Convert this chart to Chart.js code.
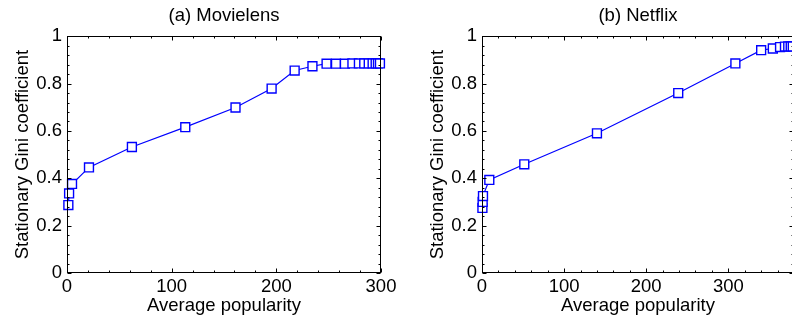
<!DOCTYPE html>
<html>
<head>
<meta charset="utf-8">
<script src="https://cdn.jsdelivr.net/npm/chart.js@4"></script>
<style>
  html, body { margin: 0; padding: 0; background: #fff; overflow: hidden; width: 792px; height: 323px; }
  .panel { position: absolute; top: 0; }
</style>
</head>
<body>
<div class="panel" style="left:0"><canvas id="movielens" width="400" height="323"></canvas></div>
<div class="panel" style="left:415px"><canvas id="netflix" width="400" height="323"></canvas></div>
<script>
// values
const movielensPopularity = [1.3, 2.0, 4.8, 21, 62, 113, 161, 195.5, 217.5, 234.5, 248, 257, 265.5, 272.7, 278.9, 284, 288.3, 292, 294.9, 297.1, 299]
const movielensGini = [0.287, 0.336, 0.376, 0.446, 0.532, 0.616, 0.699, 0.779, 0.855, 0.873, 0.884, 0.884, 0.884, 0.885, 0.885, 0.885, 0.885, 0.885, 0.885, 0.885, 0.885]

const netflixPopularity = [0.5, 0.8, 1.2, 8.9, 51.5, 140, 239, 308.6, 340, 354.2, 363, 369, 373, 376, 378.5]
const netflixGini = [0.275, 0.300, 0.325, 0.393, 0.459, 0.590, 0.760, 0.885, 0.941, 0.948, 0.954, 0.956, 0.957, 0.957, 0.957]

const xTickValues = [0, 100, 200, 300]
const yTickValues = [0, 0.2, 0.4, 0.6, 0.8, 1]
const yTickLabels = ['0', '0.2', '0.4', '0.6', '0.8', '1']

const FONT = "'Liberation Sans', Arial, Helvetica, sans-serif"
const BLUE = '#0000ff'

// matlab style box with inward ticks on all four sides
const boxTicks = {
    id: 'boxTicks',
    afterDraw(chart) {
        const { ctx, chartArea: a, scales: { x, y } } = chart
        ctx.save()
        ctx.strokeStyle = '#000'
        ctx.lineWidth = 1
        const L = Math.round(a.left) + 0.5, R = Math.round(a.right) - 0.5
        const T = Math.round(a.top) + 0.5, B = Math.round(a.bottom) - 0.5
        ctx.strokeRect(L, T, R - L, B - T)
        ctx.beginPath()
        for (let v = x.min; v <= x.max + 1e-9; v += 20) {
            const px = Math.round(x.getPixelForValue(v)) + 0.5
            const len = v % 100 === 0 ? 4 : 2
            ctx.moveTo(px, B); ctx.lineTo(px, B - len)
            ctx.moveTo(px, T); ctx.lineTo(px, T + len)
        }
        for (let i = 0; i <= 25; i++) {
            const v = i * 0.04
            const py = Math.round(y.getPixelForValue(v)) + 0.5
            const len = i % 5 === 0 ? 4 : 2
            ctx.moveTo(L, py); ctx.lineTo(L + len, py)
            ctx.moveTo(R, py); ctx.lineTo(R - len, py)
        }
        ctx.stroke()
        ctx.restore()
    }
}

function makeChart(id, xs, ys, title, xMax, padRight) {
    const textFont = { family: FONT, size: 18.5 }
    new Chart(document.getElementById(id), {
        type: 'line',
        data: {
            datasets: [{
                data: xs.map((x, i) => ({ x, y: ys[i] })),
                borderColor: BLUE,
                borderWidth: 1.2,
                pointStyle: 'rect',
                pointRadius: 6.3,
                pointBorderWidth: 1.4,
                pointBorderColor: BLUE,
                pointBackgroundColor: '#fff',
                tension: 0,
                clip: false
            }]
        },
        options: {
            responsive: false,
            animation: false,
            layout: { padding: { left: 0, right: padRight, top: 0, bottom: 0 } },
            plugins: {
                legend: { display: false },
                tooltip: { enabled: false },
                title: {
                    display: true, text: title, color: '#000', fullSize: false,
                    font: { family: FONT, size: 18.5, weight: 'normal' },
                    padding: { top: 5, bottom: 9 }
                }
            },
            scales: {
                x: {
                    type: 'linear', min: 0, max: xMax,
                    grid: { display: false, drawTicks: false },
                    border: { display: false },
                    afterBuildTicks: s => { s.ticks = xTickValues.map(v => ({ value: v })) },
                    ticks: { color: '#000', font: textFont, padding: 3, maxRotation: 0, autoSkip: false,
                             callback: v => String(v) },
                    title: { display: true, text: 'Average popularity', color: '#000', font: textFont,
                             padding: { top: 0, bottom: 6 } },
                    afterFit: s => { s.height = 50; s.paddingLeft = 0; s.paddingRight = 0 }
                },
                y: {
                    type: 'linear', min: 0, max: 1,
                    grid: { display: false, drawTicks: false },
                    border: { display: false },
                    afterBuildTicks: s => { s.ticks = yTickValues.map(v => ({ value: v })) },
                    ticks: { color: '#000', font: textFont, padding: 5, autoSkip: false,
                             callback: v => yTickLabels[yTickValues.indexOf(v)] },
                    title: { display: true, text: 'Stationary Gini coefficient', color: '#000', font: textFont,
                             padding: { top: 12, bottom: 0 } },
                    afterFit: s => { s.width = 67; s.paddingTop = 0; s.paddingBottom = 0 }
                }
            }
        },
        plugins: [boxTicks]
    })
}

makeChart('movielens', movielensPopularity, movielensGini, '(a) Movielens', 300, 19)
makeChart('netflix', netflixPopularity, netflixGini, '(b) Netflix', 380, 21)
</script>
</body>
</html>
